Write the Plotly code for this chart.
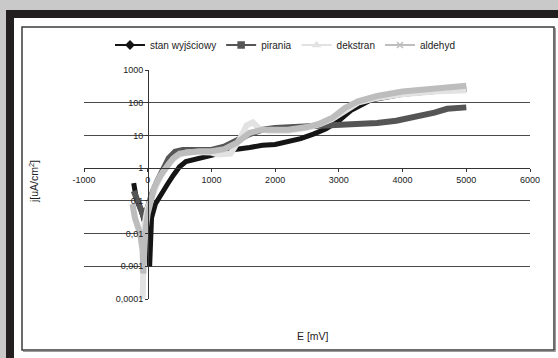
import plotly.graph_objects as go

# ---------------- data ----------------
stan_E = [-220, -180, -100, 0, 30, 35, 45, 60, 120, 200, 300, 400, 500, 600, 800, 1000,
          1200, 1400, 1600, 1800, 2000, 2200, 2400, 2600, 2800, 3000, 3200, 3500, 4000, 4500, 5000]
stan_j = [0.35, 0.12, 0.05, 0.01, 0.001, 0.003, 0.01, 0.03, 0.08, 0.15, 0.3, 0.6, 1.1, 1.6, 2.0, 2.3,
          3.0, 3.8, 4.3, 5.0, 5.3, 6.5, 8.0, 11, 16, 28, 60, 120, 180, 220, 260]

pir_E = [-220, -180, -130, -80, 0, 60, 150, 240, 330, 430, 550, 800, 1000, 1200, 1400, 1600,
         1800, 2000, 2300, 2600, 3000, 3300, 3600, 3900, 4200, 4500, 4700, 4850, 5000]
pir_j = [0.2, 0.12, 0.06, 0.04, 0.06, 0.15, 0.4, 1.0, 2.0, 3.2, 3.6, 3.6, 3.6, 4.5, 7, 11,
         15, 17, 18, 19, 20, 21, 24, 28, 36, 50, 65, 72, 72]

dek_E = [-80, -75, -70, -50, 0, 50, 150, 250, 350, 450, 600, 800, 1000, 1100, 1300, 1450,
         1550, 1650, 1750, 1900, 2200, 2500, 2700, 2900, 3100, 3300, 3600, 4000, 4500, 5000]
dek_j = [0.0001, 0.0008, 0.005, 0.02, 0.06, 0.12, 0.35, 0.8, 1.5, 2.3, 3.0, 3.1, 3.0, 2.6, 2.8, 8,
         20, 25, 16, 14, 14, 17, 22, 32, 60, 100, 140, 180, 220, 240]

ald_E = [-240, -200, -120, -80, -70, -60, -40, 0, 40, 100, 200, 300, 400, 500, 650, 800, 1000,
         1200, 1400, 1600, 1800, 2000, 2200, 2500, 2700, 2900, 3100, 3300, 3600, 4000, 4500, 5000]
ald_j = [0.08, 0.03, 0.01, 0.003, 0.0006, 0.002, 0.01, 0.04, 0.1, 0.25, 0.6, 1.2, 2.0, 2.8, 3.2, 3.3, 3.3,
         3.8, 6, 12, 15, 15, 15, 18, 23, 35, 70, 110, 160, 220, 280, 330]

series_names = ["stan wyjściowy", "pirania", "dekstran", "aldehyd"]
x_ticks = [-1000, 0, 1000, 2000, 3000, 4000, 5000, 6000]
x_ticklabels = ["-1000", "0", "1000", "2000", "3000", "4000", "5000", "6000"]
y_ticks = [0.0001, 0.001, 0.01, 0.1, 1, 10, 100, 1000]
y_ticklabels = ["0,0001", "0,001", "0,01", "0,1", "1", "10", "100", "1000"]

# ---------------- layout helpers ----------------
W, H = 558, 358
PL, PR, PT, PB = 84, 530, 70, 299


def fx(px):
    return (px - PL) / (PR - PL)


def fy(py):
    return (PB - py) / (PB - PT)


colors = ["#151515", "#555555", "#e2e2e2", "#bdbdbd"]
symbols = ["diamond", "square", "triangle-up", "x-thin-open"]
widths = [5, 6, 6, 6]
data = [(stan_E, stan_j), (pir_E, pir_j), (dek_E, dek_j), (ald_E, ald_j)]

fig = go.Figure()
for (ex, jy), name, c, w in zip(data, series_names, colors, widths):
    fig.add_trace(go.Scatter(x=ex, y=jy, mode="lines", name=name, showlegend=False,
                             line=dict(color=c, width=w), hoverinfo="skip"))

# legend entries
for name, c, s in zip(series_names, colors, symbols):
    fig.add_trace(go.Scatter(x=[None], y=[None], mode="lines+markers", name=name,
                             line=dict(color=c, width=2),
                             marker=dict(color=c, symbol=s, size=6,
                                         line=dict(color=c, width=1.5))))

shapes = [
    dict(type="rect", xref="paper", yref="paper", x0=fx(6), x1=fx(562), y0=fy(362), y1=fy(10),
         fillcolor="#231f20", line=dict(width=0), layer="below"),
    dict(type="rect", xref="paper", yref="paper", x0=fx(14), x1=fx(562), y0=fy(362), y1=fy(18),
         fillcolor="white", line=dict(width=0), layer="below"),
    dict(type="rect", xref="paper", yref="paper", x0=fx(22), x1=fx(554), y0=fy(350), y1=fy(27),
         fillcolor="rgba(0,0,0,0)", line=dict(color="#3c3c3c", width=1.5), layer="below"),
    dict(type="line", xref="paper", yref="paper", x0=fx(555.5), x1=fx(555.5), y0=fy(351.5), y1=fy(28),
         line=dict(color="#9a9a9a", width=1), layer="below"),
    dict(type="line", xref="paper", yref="paper", x0=fx(23), x1=fx(555.5), y0=fy(351.5), y1=fy(351.5),
         line=dict(color="#9a9a9a", width=1), layer="below"),
]

font_family = "Liberation Sans, Arial, sans-serif"

fig.update_layout(
    width=W, height=H,
    margin=dict(l=PL, r=W - PR, t=PT, b=H - PB, pad=0),
    paper_bgcolor="#c9c9c9",
    plot_bgcolor="rgba(0,0,0,0)",
    font=dict(family=font_family, size=9, color="#222222"),
    shapes=shapes,
    showlegend=True,
    legend=dict(orientation="h", x=fx(285), xanchor="center", y=fy(45), yanchor="middle",
                font=dict(size=10, color="#222222"), bgcolor="rgba(0,0,0,0)",
                itemwidth=30, tracegroupgap=0, itemclick=False),
    xaxis=dict(range=[-1000, 6000], tickvals=x_ticks, ticktext=x_ticklabels,
               showgrid=False, zeroline=False,
               showline=True, linecolor="#333333", linewidth=1,
               anchor="free", position=fy(168), ticks="outside", ticklen=3,
               tickcolor="#333333", tickfont=dict(size=9)),
    yaxis=dict(type="log", range=[-4, 3], tickvals=y_ticks, ticktext=y_ticklabels,
               showgrid=True, gridcolor="#4a4a4a", gridwidth=1, zeroline=False,
               showline=True, linecolor="#333333", linewidth=1,
               anchor="free", position=fx(148), ticks="outside", ticklen=3,
               tickcolor="#333333", tickfont=dict(size=9)),
    annotations=[
        dict(text="j[uA/cm<sup>2</sup>]", xref="paper", yref="paper", x=fx(33), y=fy(182),
             showarrow=False, textangle=-90, font=dict(size=10.5, color="#222222"),
             xanchor="center", yanchor="middle"),
        dict(text="E [mV]", xref="paper", yref="paper", x=fx(313), y=fy(336),
             showarrow=False, font=dict(size=10.5, color="#222222"),
             xanchor="center", yanchor="middle"),
    ],
)

fig.write_html("out.html", config={"displayModeBar": False},
               post_script="document.body.style.margin='0';document.body.style.overflow='hidden';")
